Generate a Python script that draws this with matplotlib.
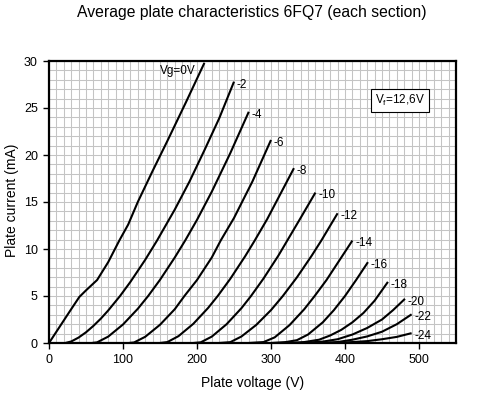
import matplotlib
matplotlib.use("Agg")
import matplotlib.pyplot as plt
from matplotlib.ticker import MultipleLocator

plt.rcParams['font.family'] = ['Liberation Sans', 'DejaVu Sans']
plt.rcParams['mathtext.fontset'] = 'custom'
plt.rcParams['mathtext.rm'] = 'Liberation Sans'

# Grid voltages (V) and curve data: plate voltage (V), plate current (mA)
grid_labels = ["Vg=0V", "-2", "-4", "-6", "-8", "-10", "-12", "-14", "-16", "-18", "-20", "-22", "-24"]

va_0 = [0, 10, 20, 30, 41, 50, 65, 80, 95, 107, 120, 140, 160, 185, 210]
ia_0 = [0, 1.2, 2.4, 3.6, 4.9, 5.6, 6.7, 8.6, 10.9, 12.6, 15.0, 18.3, 21.5, 25.6, 29.8]

va_2 = [22, 30, 40, 50, 60, 70, 80, 96, 110, 130, 146, 170, 190, 210, 230, 250]
ia_2 = [0, 0.16, 0.58, 1.14, 1.82, 2.59, 3.46, 5.0, 6.5, 8.85, 10.9, 14.2, 17.2, 20.5, 23.9, 27.8]

va_4 = [58, 65, 80, 100, 120, 134, 150, 170, 184, 200, 220, 245, 270]
ia_4 = [0, 0.07, 0.68, 1.97, 3.64, 5.0, 6.72, 9.1, 10.9, 13.1, 16.1, 20.2, 24.6]

va_6 = [108, 115, 130, 150, 170, 183, 200, 220, 232, 250, 275, 300]
ia_6 = [0, 0.06, 0.66, 1.94, 3.6, 5.0, 6.7, 9.1, 10.9, 13.3, 17.2, 21.6]

va_8 = [150, 160, 175, 195, 215, 228, 245, 265, 278, 295, 313, 331]
ia_8 = [0, 0.1, 0.73, 2.04, 3.73, 5.0, 6.83, 9.22, 10.9, 13.2, 15.9, 18.6]

va_10 = [195, 205, 220, 240, 260, 273, 290, 310, 322, 340, 360]
ia_10 = [0, 0.07, 0.68, 2.0, 3.7, 5.0, 6.87, 9.3, 10.9, 13.3, 16.0]

va_12 = [230, 245, 260, 280, 300, 316, 335, 355, 368, 390]
ia_12 = [0, 0.09, 0.69, 1.92, 3.5, 5.0, 6.98, 9.29, 10.9, 13.8]

va_14 = [270, 290, 305, 325, 345, 359, 375, 395, 410]
ia_14 = [0, 0.1, 0.6, 1.9, 3.6, 5.0, 6.7, 9.1, 10.9]

va_16 = [300, 320, 335, 350, 370, 385, 400, 415, 431]
ia_16 = [0, 0.1, 0.3, 0.9, 2.2, 3.5, 5.0, 6.7, 8.6]

va_18 = [320, 345, 365, 380, 395, 410, 425, 440, 458]
ia_18 = [0, 0.1, 0.35, 0.8, 1.4, 2.2, 3.2, 4.5, 6.5]

va_20 = [340, 370, 390, 410, 430, 450, 465, 481]
ia_20 = [0, 0.15, 0.4, 0.9, 1.6, 2.5, 3.5, 4.7]

va_22 = [360, 390, 410, 430, 450, 470, 490]
ia_22 = [0, 0.1, 0.35, 0.7, 1.2, 2.0, 3.05]

va_24 = [380, 410, 430, 450, 470, 490]
ia_24 = [0, 0.1, 0.2, 0.4, 0.65, 1.05]

curves_v = [va_0, va_2, va_4, va_6, va_8, va_10, va_12, va_14, va_16, va_18, va_20, va_22, va_24]
curves_i = [ia_0, ia_2, ia_4, ia_6, ia_8, ia_10, ia_12, ia_14, ia_16, ia_18, ia_20, ia_22, ia_24]

fig = plt.figure(figsize=(4.78, 3.93), dpi=100)
ax = fig.add_axes([49 / 478, 1 - 343 / 393, (456 - 49) / 478, (343 - 61) / 393])

ax.set_xlim(0, 550)
ax.set_ylim(0, 30)
ax.xaxis.set_major_locator(MultipleLocator(100))
ax.yaxis.set_major_locator(MultipleLocator(5))
ax.xaxis.set_minor_locator(MultipleLocator(10))
ax.yaxis.set_minor_locator(MultipleLocator(1))
ax.grid(which='both', color='#c4c4c4', linewidth=0.75)
ax.set_axisbelow(True)
ax.tick_params(which='major', direction='out', length=4, width=1, labelsize=9, pad=4)
ax.tick_params(which='minor', length=0)
for s in ax.spines.values():
    s.set_linewidth(1.6)

for v, i in zip(curves_v, curves_i):
    ax.plot(v, i, color='black', linewidth=1.5, solid_capstyle='butt')

# labels near curve ends
for k, (v, i, lab) in enumerate(zip(curves_v, curves_i, grid_labels)):
    if k == 0:
        ax.text(v[-1] - 12, i[-1] - 0.9, lab, fontsize=8.5, ha='right', va='center')
    else:
        ax.text(v[-1] + 4, i[-1] - 0.3, lab, fontsize=8.5, ha='left', va='center')

ax.text(474, 25.8, r'V$_\mathrm{f}$=12,6V', fontsize=8.5, ha='center', va='center',
        bbox=dict(boxstyle='square,pad=0.35', facecolor='white', edgecolor='black', linewidth=0.8))

ax.set_xlabel('Plate voltage (V)', fontsize=10, labelpad=7)
fig.text(12 / 478, 1 - 200 / 393, 'Plate current (mA)', fontsize=10, rotation=90,
         ha='center', va='center')
fig.text(0.527, 1 - 13 / 393, 'Average plate characteristics 6FQ7 (each section)',
         fontsize=11.3, ha='center', va='center')

fig.savefig('out.png', dpi=100)
